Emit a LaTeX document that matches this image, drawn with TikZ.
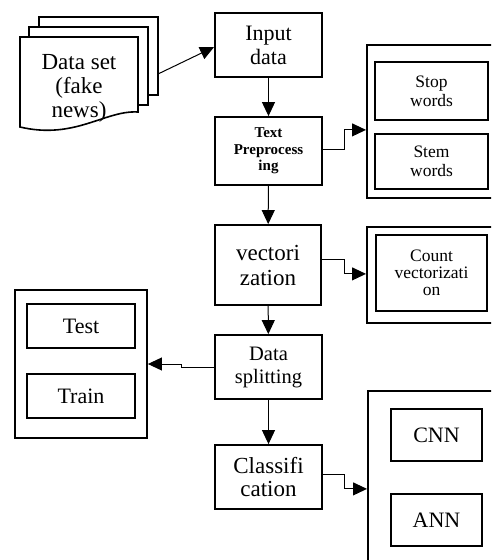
\documentclass[tikz,border=0pt]{standalone}
\usepackage{fontspec}
\setmainfont{Liberation Serif}
\usetikzlibrary{arrows.meta}
\begin{document}
\begin{tikzpicture}[x=1pt,y=-1pt,
  box/.style={draw,line width=1.8pt,inner sep=1pt,align=center},
  inbox/.style={draw,line width=2.2pt,inner sep=1pt,align=center},
  grp/.style={draw,line width=1.8pt,inner sep=0pt},
  page/.style={draw,line width=1.6pt,fill=white},
  conn/.style={line width=1pt,-{Triangle[length=14pt,width=13pt]}},
  big/.style={font=\fontsize{22}{24}\selectfont},
  mid/.style={font=\fontsize{20.5}{23}\selectfont},
  small/.style={font=\fontsize{17.5}{19}\selectfont},
  boldsmall/.style={font=\bfseries\fontsize{15}{16.5}\selectfont}]
\clip (0,0) rectangle (491,560);
\fill[white] (0,0) rectangle (491,560);

% data set (multi-document)
\draw[page] (39,17) rectangle (158,95);
\draw[page] (29,27) rectangle (148,105);
\draw[page] (20,37) -- (138,37) -- (138,112)
  .. controls (105,110) and (75,140) .. (20,127) -- cycle;
\node[align=center,font=\fontsize{23}{24}\selectfont] (dset) at (79,88) {Data set\\(fake\\news)};
\coordinate (dsout) at (158,74);

% main column
\node[box,big,minimum width=107pt,minimum height=64pt] (input) at (268.5,45) {Input\\data};
\node[box,boldsmall,minimum width=107pt,minimum height=68pt] (tp) at (268.5,151) {Text\\Preprocess\\ing};
\node[box,font=\fontsize{23}{25}\selectfont,minimum width=106pt,minimum height=80pt] (vec) at (268,265) {vectori\\zation};
\node[box,mid,minimum width=107pt,minimum height=64pt] (split) at (268.5,367) {Data\\splitting};
\node[box,font=\fontsize{23}{23}\selectfont,minimum width=107pt,minimum height=64pt] (cls) at (268.5,477) {Classifi\\cation};

% stop/stem group
\node[grp,minimum width=130pt,minimum height=153pt,anchor=north west] (stopgrp) at (366,44) {};
\node[inbox,small,minimum width=113pt,minimum height=58pt] (stop) at (431.5,91) {Stop\\words};
\node[inbox,small,minimum width=113pt,minimum height=55pt] (stem) at (431.5,161.5) {Stem\\words};

% count vectorization group
\node[grp,minimum width=130pt,minimum height=96pt,anchor=north west] (countgrp) at (366,226) {};
\node[inbox,font=\fontsize{17.5}{17}\selectfont,minimum width=111pt,minimum height=76pt] (count) at (431.5,273) {Count\\vectorizati\\on};

% train/test group
\node[grp,minimum width=132pt,minimum height=148pt] (ttgrp) at (81,364) {};
\node[inbox,big,minimum width=108pt,minimum height=44pt] (test) at (81,326) {Test};
\node[inbox,big,minimum width=108pt,minimum height=44pt] (train) at (81,396) {Train};

% model group
\node[grp,minimum width=130pt,minimum height=200pt,anchor=north west] (mgrp) at (367,390) {};
\node[inbox,big,minimum width=91pt,minimum height=52pt] (cnn) at (436.5,435) {CNN};
\node[inbox,big,minimum width=91pt,minimum height=52pt] (ann) at (436.5,520) {ANN};

% connectors
\draw[conn] (dsout) -- ([yshift=-2pt]input.west);
\draw[conn] (input) -- (tp);
\draw[conn] (tp) -- (vec);
\draw[conn] (vec) -- (split);
\draw[conn] (split) -- (cls);
\draw[conn] ([yshift=2pt]tp.east) -- ++(22,0) |- ([yshift=-8.5pt]stopgrp.west);
\draw[conn] ([yshift=6pt]vec.east) -- ++(23,0) |- ([yshift=1pt]countgrp.west);
\draw[conn] (split.west) -- ++(-33,0) |- (ttgrp.east);
\draw[conn] ([yshift=3pt]cls.east) -- ++(22,0) |- ([yshift=2pt]mgrp.west);
\end{tikzpicture}
\end{document}
